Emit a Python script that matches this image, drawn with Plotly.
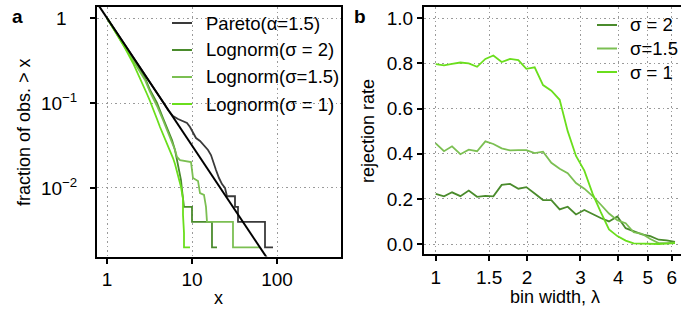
import plotly.graph_objects as go

# ---------------- Panel a: complementary CDFs (fraction of obs. > x) ----------------
pareto_x = [1.0, 1.242, 1.628, 2.135, 2.800, 3.670, 4.558, 5.219, 5.977, 6.844, 7.837,
            8.734, 9.473, 10.27, 11.15, 12.42, 13.84, 15.43, 16.73, 17.66, 19.16, 20.78,
            22.54, 24.45, 25.81, 32.05, 32.05, 34.77, 34.77, 72.25, 72.25, 89.74]
pareto_y = [1.0, 0.7226, 0.485, 0.328, 0.219, 0.146, 0.1027, 0.0827, 0.0703, 0.0648, 0.0614,
            0.0582, 0.0522, 0.0444, 0.0387, 0.0357, 0.0312, 0.0280, 0.0244, 0.0202, 0.0163,
            0.0131, 0.0111, 0.0100, 0.008, 0.008, 0.006, 0.006, 0.004, 0.004, 0.002, 0.002]

ln2_x = [1.0, 1.311, 1.719, 2.135, 2.800, 3.205, 3.875, 4.558, 5.219, 5.817, 6.310,
         6.661, 7.032, 7.424, 7.627, 7.837, 8.052, 10.0, 10.0, 17.19, 17.19, 19.68]
ln2_y = [1.0, 0.6483, 0.4202, 0.3120, 0.1968, 0.1422, 0.1000, 0.0666, 0.0481, 0.0367, 0.0280,
         0.0213, 0.0163, 0.0124, 0.0095, 0.0072, 0.006, 0.006, 0.004, 0.004, 0.002, 0.002]

ln15_x = [1.0, 1.311, 1.719, 2.135, 2.800, 3.205, 3.875, 4.558, 5.219, 5.817, 6.310, 6.661,
          7.225, 9.733, 10.27, 11.77, 12.42, 13.84, 14.61, 15.01, 30.36, 30.36, 63.10]
ln15_y = [1.0, 0.6483, 0.409, 0.2955, 0.1865, 0.1347, 0.0922, 0.0631, 0.0456, 0.0348, 0.0280,
          0.0232, 0.0213, 0.0202, 0.0131, 0.0121, 0.0087, 0.0083, 0.006, 0.004, 0.004, 0.002, 0.002]

ln1_x = [1.0, 1.242, 1.628, 2.022, 2.512, 2.955, 3.205, 3.477, 3.875, 4.203, 4.558, 5.080,
         5.510, 5.977, 6.310, 6.661, 7.032, 7.424, 7.837, 7.837, 8.052, 8.052, 9.473]
ln1_y = [1.0, 0.7032, 0.4437, 0.2955, 0.1865, 0.1276, 0.1056, 0.0873, 0.0648, 0.0522, 0.0432,
         0.0338, 0.0280, 0.0225, 0.0192, 0.0158, 0.0128, 0.0103, 0.0074, 0.0048, 0.00296,
         0.002, 0.002]

# theoretical power law (straight line in log-log)
theory_x = [0.5, 200.0]
theory_y = [2.828, 0.000354]

a_xticks = [1, 10, 100]
a_xticktext = ["1", "10", "100"]
a_yticks = [1, 0.1, 0.01]
a_yticktext = ["1\u2007", "10<sup>\u22121</sup>", "10<sup>\u22122</sup>"]

# ---------------- Panel b: rejection rate vs bin width ----------------
lam = [1.000, 1.065, 1.132, 1.206, 1.285, 1.369, 1.458, 1.549, 1.650, 1.758,
       1.873, 1.990, 2.120, 2.259, 2.406, 2.563, 2.724, 2.901, 3.091, 3.293,
       3.499, 3.727, 3.971, 4.230, 4.495, 4.788, 5.101, 5.434, 5.774, 6.152]
rej_s2 = [0.222, 0.211, 0.229, 0.212, 0.237, 0.209, 0.213, 0.211, 0.262, 0.266,
          0.245, 0.252, 0.224, 0.195, 0.194, 0.153, 0.165, 0.131, 0.151, 0.132,
          0.115, 0.100, 0.122, 0.070, 0.056, 0.043, 0.035, 0.019, 0.016, 0.009]
rej_s15 = [0.446, 0.411, 0.433, 0.398, 0.418, 0.411, 0.455, 0.443, 0.424, 0.415,
           0.416, 0.416, 0.403, 0.409, 0.360, 0.333, 0.314, 0.270, 0.245, 0.212,
           0.175, 0.135, 0.105, 0.092, 0.052, 0.045, 0.022, 0.004, 0.004, 0.006]
rej_s1 = [0.797, 0.791, 0.798, 0.804, 0.800, 0.785, 0.820, 0.835, 0.806, 0.820,
          0.815, 0.776, 0.783, 0.704, 0.679, 0.639, 0.500, 0.390, 0.325, 0.222,
          0.142, 0.065, 0.035, 0.015, 0.003, 0.001, 0.000, 0.000, 0.002, 0.004]

b_xticks = [1, 1.5, 2, 3, 4, 5, 6]
b_xticktext = ["1", "1.5", "2", "3", "4", "5", "6"]
b_yticks = [0.0, 0.2, 0.4, 0.6, 0.8, 1.0]
b_yticktext = ["0.0", "0.2", "0.4", "0.6", "0.8", "1.0"]

legend_a = ["Pareto(\u03b1=1.5)", "Lognorm(\u03c3 = 2)", "Lognorm(\u03c3=1.5)", "Lognorm(\u03c3 = 1)"]
legend_b = ["\u03c3 = 2", "\u03c3=1.5", "\u03c3 = 1"]

C_PARETO = "#3a3a3a"
C_S2 = "#4a8b2c"
C_S15 = "#7bbf52"
C_S1 = "#6ade1c"

W, H = 681, 311
FONT = "Liberation Sans, Arial, sans-serif"
FS = 18
FS_TICK = 19


def PX(x):
    return x / W


def PY(y):
    return 1 - y / H


fig = go.Figure()
lw = 1.8
fig.add_trace(go.Scatter(x=pareto_x, y=pareto_y, mode="lines", line=dict(color=C_PARETO, width=lw),
                         xaxis="x", yaxis="y", showlegend=False))
fig.add_trace(go.Scatter(x=ln2_x, y=ln2_y, mode="lines", line=dict(color=C_S2, width=lw),
                         xaxis="x", yaxis="y", showlegend=False))
fig.add_trace(go.Scatter(x=ln15_x, y=ln15_y, mode="lines", line=dict(color=C_S15, width=lw),
                         xaxis="x", yaxis="y", showlegend=False))
fig.add_trace(go.Scatter(x=ln1_x, y=ln1_y, mode="lines", line=dict(color=C_S1, width=lw),
                         xaxis="x", yaxis="y", showlegend=False))
fig.add_trace(go.Scatter(x=theory_x, y=theory_y, mode="lines", line=dict(color="black", width=2),
                         xaxis="x", yaxis="y", showlegend=False))

fig.add_trace(go.Scatter(x=lam, y=rej_s2, mode="lines", line=dict(color=C_S2, width=lw),
                         xaxis="x2", yaxis="y2", showlegend=False))
fig.add_trace(go.Scatter(x=lam, y=rej_s15, mode="lines", line=dict(color=C_S15, width=lw),
                         xaxis="x2", yaxis="y2", showlegend=False))
fig.add_trace(go.Scatter(x=lam, y=rej_s1, mode="lines", line=dict(color=C_S1, width=lw),
                         xaxis="x2", yaxis="y2", showlegend=False))

axis_common = dict(showline=True, linecolor="black", linewidth=2, ticks="outside", ticklen=5,
                   tickwidth=1.5, tickcolor="black", showgrid=True, gridcolor="#9a9a9a",
                   griddash="1.5px,3px", gridwidth=1.3, zeroline=False,
                   tickfont=dict(family=FONT, size=FS_TICK, color="black"))

fig.update_layout(
    width=W, height=H, margin=dict(l=0, r=0, t=0, b=0),
    paper_bgcolor="white", plot_bgcolor="white",
    font=dict(family=FONT, size=FS, color="black"),
    xaxis=dict(type="log", domain=[PX(97), PX(341)], range=[-0.1176, 2.753],
               tickmode="array", tickvals=a_xticks, ticktext=a_xticktext,
               mirror=True, anchor="y", **axis_common),
    yaxis=dict(type="log", domain=[PY(256.5), PY(7)], range=[-2.806, 0.1294],
               tickmode="array", tickvals=a_yticks, ticktext=a_yticktext,
               mirror=True, anchor="x", ticklabelstandoff=9, **axis_common),
    xaxis2=dict(type="log", domain=[PX(424), 1.0], range=[-0.0386, 0.8088],
                tickmode="array", tickvals=b_xticks, ticktext=b_xticktext,
                mirror=True, anchor="y2", **axis_common),
    yaxis2=dict(domain=[PY(254), PY(7)], range=[-0.0443, 1.050],
                tickmode="array", tickvals=b_yticks, ticktext=b_yticktext,
                anchor="x2", **axis_common),
)

ann = []
shapes = []


def text(x, y, s, size=FS, xanchor="center", angle=0, bold=False):
    ann.append(dict(x=PX(x), y=PY(y), xref="paper", yref="paper", text=("<b>%s</b>" % s) if bold else s,
                    showarrow=False, xanchor=xanchor, yanchor="middle", textangle=angle,
                    font=dict(family=FONT, size=size, color="black")))


# panel labels
text(17.5, 16, "a", size=19, bold=True)
text(360, 16, "b", size=19, bold=True)
# axis titles
text(24, 132, "fraction of obs. &gt; x", angle=-90)
text(218.5, 298, "x")
text(368, 131, "rejection rate", angle=-90)
text(555, 297, "bin width, \u03bb")

# legend a
for i, (lab, col) in enumerate(zip(legend_a, [C_PARETO, C_S2, C_S15, C_S1])):
    yy = 23 + 27 * i
    shapes.append(dict(type="line", xref="paper", yref="paper", x0=PX(172), x1=PX(192),
                       y0=PY(yy), y1=PY(yy), line=dict(color=col, width=2)))
    text(204, yy, lab, size=18.5, xanchor="left")

# legend b
for i, (lab, col) in enumerate(zip(legend_b, [C_S2, C_S15, C_S1])):
    yy = 25 + 23.5 * i
    shapes.append(dict(type="line", xref="paper", yref="paper", x0=PX(597), x1=PX(617),
                       y0=PY(yy), y1=PY(yy), line=dict(color=col, width=2)))
    text(628, yy, lab, size=18.5, xanchor="left")

fig.update_layout(annotations=ann, shapes=shapes)
fig.write_html("out.html", config={"displayModeBar": False},
               post_script="document.body.style.margin='0';document.body.style.overflow='hidden';")
